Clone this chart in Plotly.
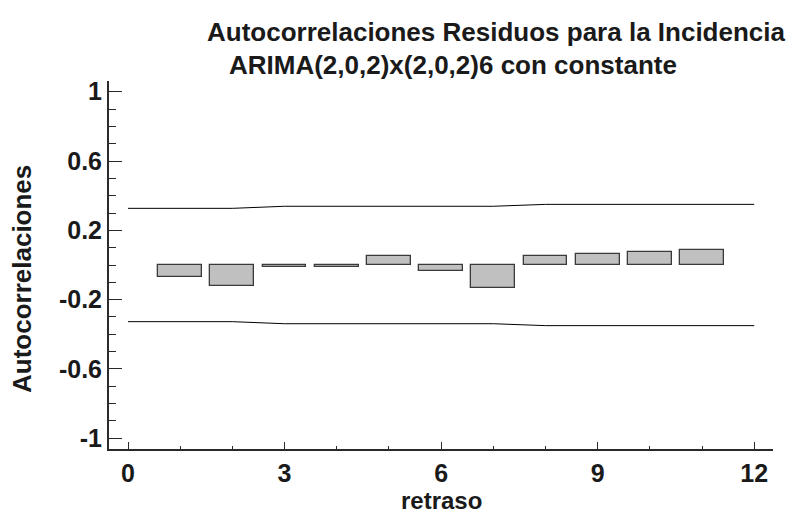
import plotly.graph_objects as go

lags = [1, 2, 3, 4, 5, 6, 7, 8, 9, 10, 11]
autocorr = [-0.072, -0.121, -0.013, -0.013, 0.050, -0.037, -0.133, 0.050, 0.062, 0.075, 0.087]

limit_lags = [0, 1, 2, 3, 4, 5, 6, 7, 8, 9, 10, 11, 12]
upper_limit = [0.327, 0.327, 0.327, 0.339, 0.339, 0.339, 0.339, 0.339, 0.350, 0.350, 0.350, 0.350, 0.350]
lower_limit = [-0.327, -0.327, -0.327, -0.339, -0.339, -0.339, -0.339, -0.339, -0.350, -0.350, -0.350, -0.350, -0.350]

x_tick_vals = [0, 3, 6, 9, 12]
x_tick_text = ["0", "3", "6", "9", "12"]
y_tick_vals = [-1, -0.6, -0.2, 0.2, 0.6, 1]
y_tick_text = ["-1", "-0.6", "-0.2", "0.2", "0.6", "1"]

title_line1 = "Autocorrelaciones Residuos para la Incidencia"
title_line2 = "ARIMA(2,0,2)x(2,0,2)6 con constante"
x_title = "retraso"
y_title = "Autocorrelaciones"

FONT = "Liberation Sans, Arial, sans-serif"
AX = "#2a2a2a"
TXT = "#1a1a1a"

fig = go.Figure()
fig.add_trace(go.Bar(
    x=lags, y=autocorr, width=0.84,
    marker=dict(color="#c0c0c0", line=dict(color="#3a3a3a", width=1.3)),
    showlegend=False,
))
fig.add_trace(go.Scatter(x=limit_lags, y=upper_limit, mode="lines",
                         line=dict(color="black", width=1), showlegend=False))
fig.add_trace(go.Scatter(x=limit_lags, y=lower_limit, mode="lines",
                         line=dict(color="black", width=1), showlegend=False))

fig.update_layout(
    width=797, height=521,
    margin=dict(l=109, r=24, t=81, b=72),
    paper_bgcolor="white", plot_bgcolor="white",
    font=dict(family=FONT, size=25, color=TXT),
    bargap=0,
)
tick_font = dict(family=FONT, size=25, color=TXT, weight="bold")
fig.update_xaxes(
    range=[-0.364, 12.36], showgrid=False, zeroline=False,
    showline=True, linecolor=AX, linewidth=2,
    tickvals=x_tick_vals, ticktext=x_tick_text,
    ticks="inside", ticklen=7, tickwidth=1.2, tickcolor=AX,
    tickfont=tick_font, ticklabelstandoff=1,
    minor=dict(dtick=1, tick0=0, ticks="inside", ticklen=3, tickwidth=1.2, tickcolor=AX, showgrid=False),
)
fig.update_yaxes(
    range=[-1.062, 1.062], showgrid=False, zeroline=False,
    showline=True, linecolor=AX, linewidth=2,
    tickvals=y_tick_vals, ticktext=y_tick_text,
    ticks="inside", ticklen=13, tickwidth=1.2, tickcolor=AX,
    tickfont=tick_font,
    minor=dict(dtick=0.1, tick0=0, ticks="inside", ticklen=7, tickwidth=1.2, tickcolor=AX, showgrid=False),
)

title_font = dict(family=FONT, size=26, color=TXT, weight="bold")
fig.add_annotation(text=title_line1, xref="paper", yref="paper",
                   x=0.584, y=1.1332, xanchor="center", yanchor="middle",
                   showarrow=False, font=title_font)
fig.add_annotation(text=title_line2, xref="paper", yref="paper",
                   x=0.518, y=1.044, xanchor="center", yanchor="middle",
                   showarrow=False, font=title_font)
fig.add_annotation(text=x_title, xref="paper", yref="paper",
                   x=0.5, y=-0.141, xanchor="center", yanchor="middle",
                   showarrow=False, font=dict(family=FONT, size=24, color=TXT, weight="bold"))
fig.add_annotation(text=y_title, xref="paper", yref="paper",
                   x=-0.131, y=0.462, xanchor="center", yanchor="middle",
                   textangle=-90, showarrow=False, font=dict(family=FONT, size=26, color=TXT, weight="bold"))

# remove the default 8px page margin so the figure fills the 797x521 window
fig.write_html("out.html", config={"displayModeBar": False},
               post_script="document.body.style.margin='0';")
